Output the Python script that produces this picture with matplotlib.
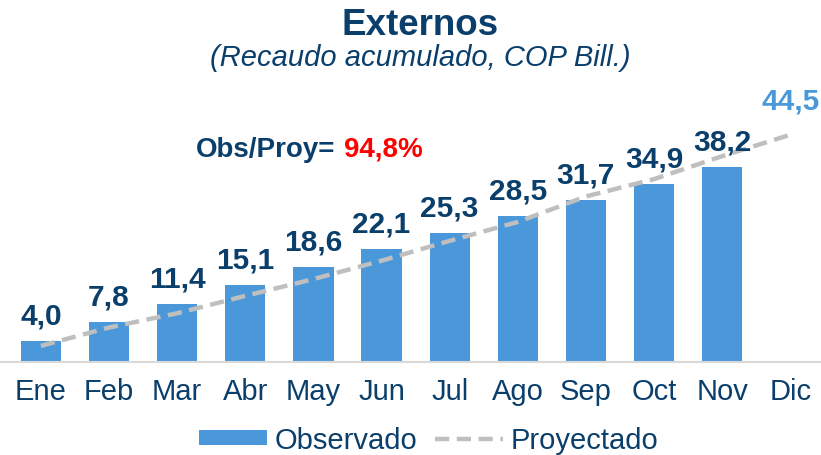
import numpy as np
import matplotlib
matplotlib.use('Agg')
import matplotlib.pyplot as plt
from matplotlib.patches import Patch
from matplotlib.lines import Line2D

# ============================================================================
# Data
# ============================================================================
months = ['Ene', 'Feb', 'Mar', 'Abr', 'May', 'Jun', 'Jul', 'Ago', 'Sep', 'Oct', 'Nov', 'Dic']
observado = [4.0, 7.8, 11.4, 15.1, 18.6, 22.1, 25.3, 28.5, 31.7, 34.9, 38.2]
proyectado = [3.1, 6.7, 9.5, 12.9, 16.2, 19.8, 23.7, 27.4, 32.4, 35.8, 40.3, 44.5]
ratio_label = '94,8%'

NAVY = '#0B3F6B'
BLUE = '#4A98D9'
GREY = '#BFBFBF'
DASH = (0, (3.2, 1.7))

plt.rcParams['font.family'] = ['Liberation Sans', 'DejaVu Sans']

fig = plt.figure(figsize=(8.21, 4.56), dpi=100)
ax = fig.add_axes([0.0, 0.2046, 1.0, 0.576])

x_obs = np.arange(len(observado))
x_proj = np.arange(len(proyectado))

ax.bar(x_obs, observado, width=0.59, color=BLUE, zorder=2)
ax.plot(x_proj, proyectado, color=GREY, linewidth=3.2, linestyle=DASH,
        zorder=3, dash_capstyle='butt')

# value labels
for xi, v in zip(x_obs, observado):
    ax.annotate(f'{v:.1f}'.replace('.', ','), (xi, v), xytext=(0, 12.5),
                textcoords='offset points', ha='center', va='baseline',
                fontsize=21.5, fontweight='bold', color=NAVY, zorder=4)
ax.annotate(f'{proyectado[-1]:.1f}'.replace('.', ','), (x_proj[-1], proyectado[-1]),
            xytext=(0, 19), textcoords='offset points', ha='center', va='baseline',
            fontsize=21.5, fontweight='bold', color=BLUE)

ax.set_xlim(-0.6, 11.45)
ax.set_ylim(0, 51.5)
ax.set_xticks(x_proj)
ax.set_xticklabels(months, fontsize=21, color=NAVY)
ax.tick_params(axis='x', length=0, pad=11)
ax.set_yticks([])
for s in ['top', 'right', 'left']:
    ax.spines[s].set_visible(False)
ax.spines['bottom'].set_color('#D9D9D9')
ax.spines['bottom'].set_linewidth(1.5)
ax.patch.set_alpha(0)

# titles
fig.text(0.512, 0.945, 'Externos', ha='center', va='center', fontsize=26.5,
         fontweight='bold', color=NAVY)
fig.text(0.512, 0.872, '(Recaudo acumulado, COP Bill.)', ha='center', va='center',
         fontsize=21, style='italic', color=NAVY)

# ratio annotation
fig.text(0.239, 0.672, 'Obs/Proy=', ha='left', va='center', fontsize=20,
         fontweight='bold', color=NAVY)
fig.text(0.419, 0.672, ratio_label, ha='left', va='center', fontsize=20,
         fontweight='bold', color='#FF0000')

# legend
handles = [Patch(facecolor=BLUE, edgecolor='none'),
           Line2D([0], [0], color=GREY, linewidth=3.2, linestyle=DASH)]
fig.legend(handles, ['Observado', 'Proyectado'], loc='center',
           bbox_to_anchor=(0.522, 0.033), ncol=2, frameon=False, fontsize=21,
           handlelength=2.35, handleheight=0.45, handletextpad=0.25, columnspacing=0.6,
           labelcolor=NAVY)

plt.savefig('out.png', dpi=100)
